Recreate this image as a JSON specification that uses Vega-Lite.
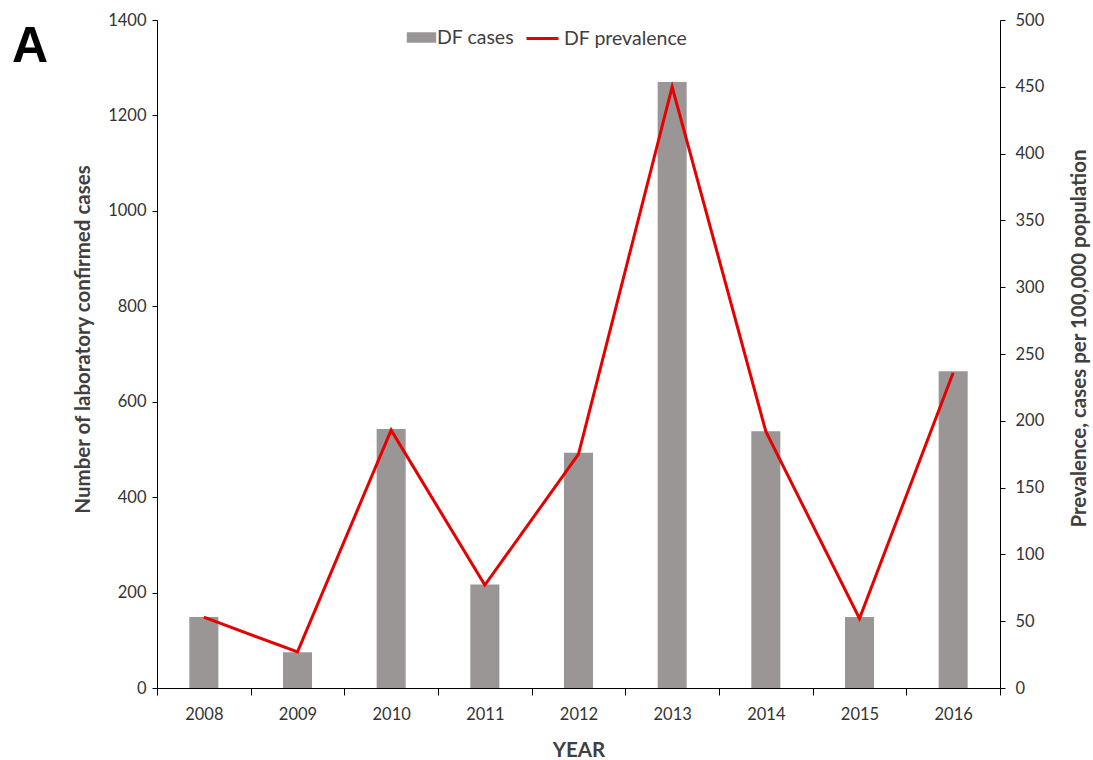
{
  "$schema": "https://vega.github.io/schema/vega-lite/v6.json",
  "width": 843,
  "height": 668,
  "autosize": {"type": "none"},
  "padding": {"left": 157, "top": 20, "right": 93, "bottom": 72},
  "background": "white",
  "config": {
    "view": {"stroke": null},
    "font": "Lato",
    "axis": {"grid": false, "domainColor": "#000000", "tickColor": "#000000", "labelColor": "#333333", "labelFontSize": 16.5, "labelFont": "Lato", "titleFont": "Lato", "titleFontSize": 20.5, "titleFontWeight": "bold", "titleColor": "#404040"}
  },
  "title": {"text": "A", "anchor": "start", "frame": "group", "dx": -145, "dy": 104, "fontSize": 50, "font": "Liberation Sans", "fontWeight": "bold", "color": "#000000", "baseline": "alphabetic"},
  "data": {"values": [
    {"year": "2008", "cases": 149, "prev": 53},
    {"year": "2009", "cases": 75, "prev": 27},
    {"year": "2010", "cases": 543, "prev": 193},
    {"year": "2011", "cases": 217, "prev": 77},
    {"year": "2012", "cases": 493, "prev": 175},
    {"year": "2013", "cases": 1270, "prev": 450},
    {"year": "2014", "cases": 538, "prev": 192},
    {"year": "2015", "cases": 149, "prev": 52},
    {"year": "2016", "cases": 664, "prev": 236}
  ]},
  "encoding": {
    "x": {"field": "year", "type": "nominal", "scale": {"paddingInner": 0, "paddingOuter": 0},
      "axis": {"title": "YEAR", "labelAngle": 0, "tickBand": "extent", "tickSize": 7, "labelPadding": 11, "titlePadding": 18}}
  },
  "layer": [
    {
      "mark": {"type": "bar", "color": "#9a9696", "width": {"band": 0.31}},
      "encoding": {
        "y": {"field": "cases", "type": "quantitative", "scale": {"domain": [0, 1400]},
          "axis": {"orient": "left", "title": "Number of laboratory confirmed cases", "titleY": 319, "format": "d", "values": [0,200,400,600,800,1000,1200,1400], "tickSize": 5, "labelPadding": 6, "titlePadding": 14}},
        "fill": {"datum": "DF cases", "scale": {"domain": ["DF cases"], "range": ["#9a9696"]},
          "legend": {"title": null, "orient": "none", "legendX": 254, "legendY": 7, "padding": 0, "symbolType": "M-1.4,-0.5H1.4V0.5H-1.4Z", "symbolSize": 441, "symbolStrokeWidth": 0, "labelFontSize": 19.5, "labelColor": "#404040", "labelFont": "Lato", "labelOffset": 5}}
      }
    },
    {
      "mark": {"type": "line", "color": "#e60000", "strokeWidth": 3},
      "encoding": {
        "y": {"field": "prev", "type": "quantitative", "scale": {"domain": [0, 500]},
          "axis": {"orient": "right", "title": "Prevalence, cases per 100,000 population", "titleAngle": 270, "titleY": 318, "values": [0,50,100,150,200,250,300,350,400,450,500], "tickSize": 5, "labelPadding": 10, "titlePadding": 46}},
        "stroke": {"datum": "DF prevalence", "scale": {"domain": ["DF prevalence"], "range": ["#e60000"]},
          "legend": {"title": null, "orient": "none", "legendX": 368, "legendY": 1, "padding": 0, "symbolType": "stroke", "symbolSize": 1024, "symbolStrokeWidth": 3, "labelFontSize": 19.5, "labelColor": "#404040", "labelFont": "Lato", "labelOffset": 4}}
      }
    }
  ],
  "resolve": {"scale": {"y": "independent"}}
}
